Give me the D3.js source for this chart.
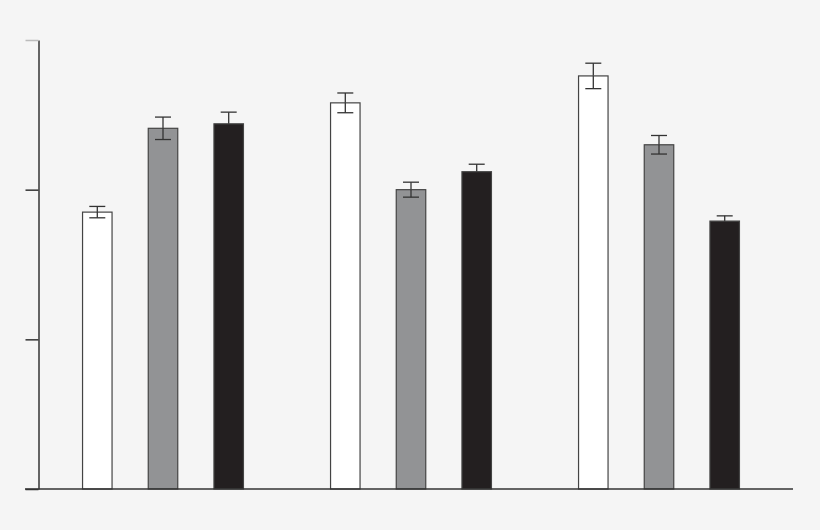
<!DOCTYPE html>
<html>
<head>
<meta charset="utf-8">
<script src="https://cdnjs.cloudflare.com/ajax/libs/d3/7.8.5/d3.min.js"></script>
<style>
  html, body { margin: 0; padding: 0; background: #f5f5f5; }
  svg { display: block; }
</style>
</head>
<body>
<div id="chart"></div>
<script>
// groups and series (no labels shown in the figure)
var groups = ['A', 'B', 'C'];
var series = ['white', 'gray', 'black'];

// bar heights per series, one value per group
var whiteValues = [1.85, 2.58, 2.76];
var grayValues  = [2.41, 2.00, 2.30];
var blackValues = [2.44, 2.12, 1.79];

// error half-widths
var whiteErrors = [0.038, 0.066, 0.085];
var grayErrors  = [0.075, 0.050, 0.062];
var blackErrors = [0.078, 0.050, 0.035];

var yTicks = [0, 1, 2, 3];

var fills = { white: '#ffffff', gray: '#929395', black: '#231f20' };

var width = 820, height = 530;

var svg = d3.select('#chart').append('svg')
    .attr('width', width)
    .attr('height', height);

svg.append('rect')
    .attr('width', width)
    .attr('height', height)
    .attr('fill', '#f5f5f5');

// scales
var y = d3.scaleLinear().domain([0, 3]).range([489, 40]);
var x0 = d3.scaleBand().domain(groups).range([39, 783]);
var x1 = d3.scalePoint().domain(series).range([-65.7, 65.7]);
var barW = 29.5;

// build rows
var rows = [];
var valuesBy = { white: whiteValues, gray: grayValues, black: blackValues };
var errorsBy = { white: whiteErrors, gray: grayErrors, black: blackErrors };
groups.forEach(function(g, i){
    series.forEach(function(s){
        rows.push({ group: g, series: s, value: valuesBy[s][i], err: errorsBy[s][i] });
    });
});

function cx(d){ return x0(d.group) + x0.bandwidth() / 2 + x1(d.series); }

// error bars (drawn behind bars so the lower half hides in black bars)
var eb = svg.append('g')
    .attr('stroke', '#333')
    .attr('stroke-width', 1.3)
    .selectAll('g')
    .data(rows)
    .enter().append('g');

eb.append('line')
    .attr('x1', cx).attr('x2', cx)
    .attr('y1', function(d){ return y(d.value + d.err); })
    .attr('y2', function(d){ return y(d.value - d.err); });
eb.append('line')
    .attr('x1', function(d){ return cx(d) - 8; })
    .attr('x2', function(d){ return cx(d) + 8; })
    .attr('y1', function(d){ return y(d.value + d.err); })
    .attr('y2', function(d){ return y(d.value + d.err); });

// bars
svg.append('g')
    .selectAll('rect')
    .data(rows)
    .enter().append('rect')
        .attr('x', function(d){ return cx(d) - barW / 2; })
        .attr('y', function(d){ return y(d.value); })
        .attr('width', barW)
        .attr('height', function(d){ return y(0) - y(d.value); })
        .attr('fill', function(d){ return fills[d.series]; })
        .attr('stroke', '#444')
        .attr('stroke-width', 1.2);

// lower error whiskers on top of the light bars
var eb2 = svg.append('g')
    .attr('stroke', '#333')
    .attr('stroke-width', 1.3)
    .selectAll('g')
    .data(rows.filter(function(d){ return d.series != 'black'; }))
    .enter().append('g');

eb2.append('line')
    .attr('x1', cx).attr('x2', cx)
    .attr('y1', function(d){ return y(d.value); })
    .attr('y2', function(d){ return y(d.value - d.err); });
eb2.append('line')
    .attr('x1', function(d){ return cx(d) - 8; })
    .attr('x2', function(d){ return cx(d) + 8; })
    .attr('y1', function(d){ return y(d.value - d.err); })
    .attr('y2', function(d){ return y(d.value - d.err); });

// y axis
var yAxis = svg.append('g')
    .attr('transform', 'translate(38.5,0)')
    .call(d3.axisLeft(y).tickValues(yTicks).tickSize(13).tickFormat('').tickSizeOuter(0));
yAxis.selectAll('path, line').attr('stroke', '#333').attr('stroke-width', 1.5);
yAxis.selectAll('.tick').filter(function(d){ return d == 3; })
    .select('line').attr('stroke', '#bbb');

// x axis line
svg.append('line')
    .attr('x1', 25).attr('x2', 793)
    .attr('y1', y(0)).attr('y2', y(0))
    .attr('stroke', '#333')
    .attr('stroke-width', 1.5);
</script>
</body>
</html>
